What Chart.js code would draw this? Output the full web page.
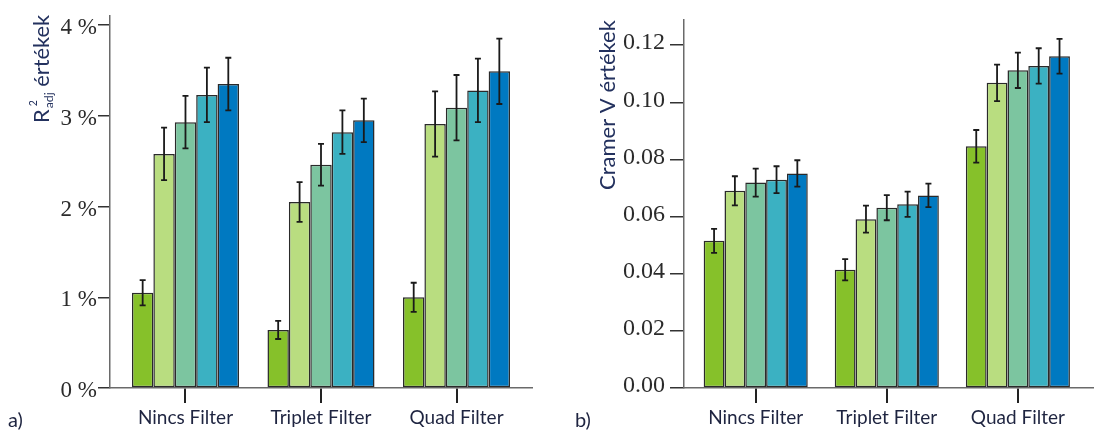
<!DOCTYPE html>
<html>
<head>
<meta charset="utf-8">
<script src="https://cdn.jsdelivr.net/npm/chart.js@4.4.1/dist/chart.umd.min.js"></script>
<style>
  html, body { margin: 0; padding: 0; background: #fff; }
  #wrap { position: relative; width: 1094px; height: 431px; overflow: hidden; }
  .panel { position: absolute; top: 0; width: 547px; height: 431px; }
  .tag { position: absolute; font-family: Lato, 'Open Sans', sans-serif; font-size: 20px; color: #1e2440; top: 407px; }
</style>
</head>
<body>
<div id="wrap">
  <div class="panel" style="left:0"><canvas id="cA" width="547" height="431"></canvas></div>
  <div class="panel" style="left:547px"><canvas id="cB" width="547" height="431"></canvas></div>
  <div class="tag" style="left:8px">a)</div>
  <div class="tag" style="left:575px">b)</div>
</div>
<script>
// ---- data ----
const categories = ['Nincs Filter', 'Triplet Filter', 'Quad Filter'];
const seriesLabels = ['1', '2', '3', '4', '5'];
const seriesColors = ['#86c12a', '#b9dd80', '#7cc5a0', '#3bb1c2', '#0079c1'];

// a) R²adj (%)
const r2_s1 = [1.05, 0.64, 1.00];
const r2_s2 = [2.58, 2.05, 2.91];
const r2_s3 = [2.93, 2.46, 3.09];
const r2_s4 = [3.23, 2.82, 3.28];
const r2_s5 = [3.35, 2.95, 3.49];
const r2_e1 = [0.14, 0.10, 0.16];
const r2_e2 = [0.29, 0.22, 0.36];
const r2_e3 = [0.29, 0.23, 0.36];
const r2_e4 = [0.30, 0.24, 0.35];
const r2_e5 = [0.29, 0.24, 0.36];
const r2Ticks = [0, 1, 2, 3, 4];

// b) Cramer V
const cv_s1 = [0.0515, 0.0414, 0.0846];
const cv_s2 = [0.0690, 0.0591, 0.1068];
const cv_s3 = [0.0719, 0.0631, 0.1112];
const cv_s4 = [0.0729, 0.0643, 0.1127];
const cv_s5 = [0.0751, 0.0674, 0.1161];
const cv_e1 = [0.0042, 0.0037, 0.0057];
const cv_e2 = [0.0051, 0.0047, 0.0064];
const cv_e3 = [0.0049, 0.0044, 0.0062];
const cv_e4 = [0.0047, 0.0044, 0.0062];
const cv_e5 = [0.0046, 0.0041, 0.0061];
const cvTicks = [0, 0.02, 0.04, 0.06, 0.08, 0.10, 0.12];

const catTicks = categories.map((c, i) => i);

const SANS = "Lato, 'Open Sans', sans-serif";
const SERIF = '"Liberation Serif", "Times New Roman", Times, serif';
const TITLE_COLOR = '#23315e';

function buildDatasets(vals, errs) {
  return vals.map((arr, s) => ({
    label: seriesLabels[s],
    data: arr.map((v, i) => ({ x: i, y: v })),
    errors: errs[s],
    backgroundColor: seriesColors[s],
    borderColor: '#2a2a2a',
    borderWidth: 1.5,
    borderSkipped: false
  }));
}

const errorBarPlugin = {
  id: 'errorBars',
  afterDatasetsDraw(chart) {
    const ctx = chart.ctx;
    const ys = chart.scales.y;
    ctx.save();
    ctx.strokeStyle = '#1a1a1a';
    ctx.lineWidth = 1.8;
    chart.data.datasets.forEach((ds, di) => {
      const meta = chart.getDatasetMeta(di);
      meta.data.forEach((el, j) => {
        const v = ds.data[j].y, e = ds.errors[j];
        const x = el.x;
        const y1 = ys.getPixelForValue(v + e);
        const y2 = ys.getPixelForValue(v - e);
        const cw = 3;
        ctx.beginPath();
        ctx.moveTo(x, y1); ctx.lineTo(x, y2);
        ctx.moveTo(x - cw, y1); ctx.lineTo(x + cw, y1);
        ctx.moveTo(x - cw, y2); ctx.lineTo(x + cw, y2);
        ctx.stroke();
      });
    });
    ctx.restore();
  }
};

function fitSize(ctx, text, target, family) {
  ctx.font = '100px ' + family;
  return 100 * target / ctx.measureText(text).width;
}

// left axis title with sub/superscript
const titleAPlugin = {
  id: 'titleA',
  afterDraw(chart) {
    const ctx = chart.ctx;
    ctx.save();
    const s = fitSize(ctx, 'értékek', 72, SANS);
    ctx.translate(48.5, 123);
    ctx.rotate(-Math.PI / 2);
    ctx.fillStyle = TITLE_COLOR;
    ctx.textBaseline = 'alphabetic';
    ctx.textAlign = 'left';
    let x = 0;
    ctx.font = s + 'px ' + SANS;
    ctx.fillText('R', x, 0);
    x += ctx.measureText('R').width + 1;
    ctx.font = (s * 0.56) + 'px ' + SANS;
    ctx.fillText('adj', x, 4.5);
    const wAdj = ctx.measureText('adj').width;
    ctx.font = (s * 0.48) + 'px ' + SANS;
    ctx.fillText('2', x + 2, -11.5);
    x += wAdj;
    ctx.font = s + 'px ' + SANS;
    ctx.fillText(' értékek', x, 0);
    ctx.restore();
  }
};

const titleBPlugin = {
  id: 'titleB',
  afterDraw(chart) {
    const ctx = chart.ctx;
    ctx.save();
    const txt = 'Cramer V értékek';
    const s = fitSize(ctx, txt, 170, SANS);
    ctx.translate(68, 190);
    ctx.rotate(-Math.PI / 2);
    ctx.fillStyle = TITLE_COLOR;
    ctx.font = s + 'px ' + SANS;
    ctx.textBaseline = 'alphabetic';
    ctx.textAlign = 'left';
    ctx.fillText(txt, 0, 0);
    ctx.restore();
  }
};

function makeChart(id, datasets, opt) {
  return new Chart(document.getElementById(id), {
    type: 'bar',
    data: { datasets },
    plugins: [errorBarPlugin, opt.titlePlugin],
    options: {
      responsive: false,
      animation: false,
      layout: { padding: { left: 0, right: opt.padRight, top: 16, bottom: 0 } },
      categoryPercentage: opt.catPct,
      barPercentage: 1.0,
      plugins: { legend: { display: false }, tooltip: { enabled: false } },
      scales: {
        x: {
          type: 'linear',
          min: opt.xMin, max: opt.xMax,
          offset: false,
          afterBuildTicks: (sc) => { sc.ticks = catTicks.map(v => ({ value: v })); },
          afterFit: (sc) => { sc.height = 43; },
          grid: { display: true, offset: false, drawOnChartArea: false, drawTicks: true, tickLength: 15, color: '#222', lineWidth: 2 },
          border: { display: true, color: '#6a6a6a', width: 1.5 },
          ticks: {
            autoSkip: false, maxRotation: 0, padding: 3,
            color: '#1e2440',
            font: { family: SANS, size: 19 },
            callback: (v) => categories[v] ?? ''
          }
        },
        y: {
          min: 0, max: opt.yMax,
          afterBuildTicks: (sc) => { sc.ticks = opt.yTicks.map(v => ({ value: v })); },
          afterFit: (sc) => { sc.width = opt.yWidth; },
          grid: { display: true, drawOnChartArea: false, drawTicks: true, tickLength: opt.tickLen, color: '#333', lineWidth: 1.5 },
          border: { display: true, color: '#6a6a6a', width: 1.5 },
          ticks: {
            padding: opt.tickPad,
            labelOffset: opt.labelOff,
            color: '#2b2b2b',
            font: { family: SERIF, size: opt.tickSize },
            callback: opt.fmt
          }
        }
      }
    }
  });
}

makeChart('cA',
  buildDatasets([r2_s1, r2_s2, r2_s3, r2_s4, r2_s5], [r2_e1, r2_e2, r2_e3, r2_e4, r2_e5]),
  { titlePlugin: titleAPlugin, padRight: 15, catPct: 0.79, xMin: -0.557, xMax: 2.557,
    yMax: 4.1, yTicks: r2Ticks, yWidth: 110, tickLen: 12, tickPad: 1, tickSize: 23, labelOff: 3,
    fmt: (v) => v + ' %' });

makeChart('cB',
  buildDatasets([cv_s1, cv_s2, cv_s3, cv_s4, cv_s5], [cv_e1, cv_e2, cv_e3, cv_e4, cv_e5]),
  { titlePlugin: titleBPlugin, padRight: 1, catPct: 0.794, xMin: -0.547, xMax: 2.573,
    yMax: 0.129, yTicks: cvTicks, yWidth: 137, tickLen: 14, tickPad: 5, tickSize: 24, labelOff: -2,
    fmt: (v) => v.toFixed(2) });
</script>
</body>
</html>
